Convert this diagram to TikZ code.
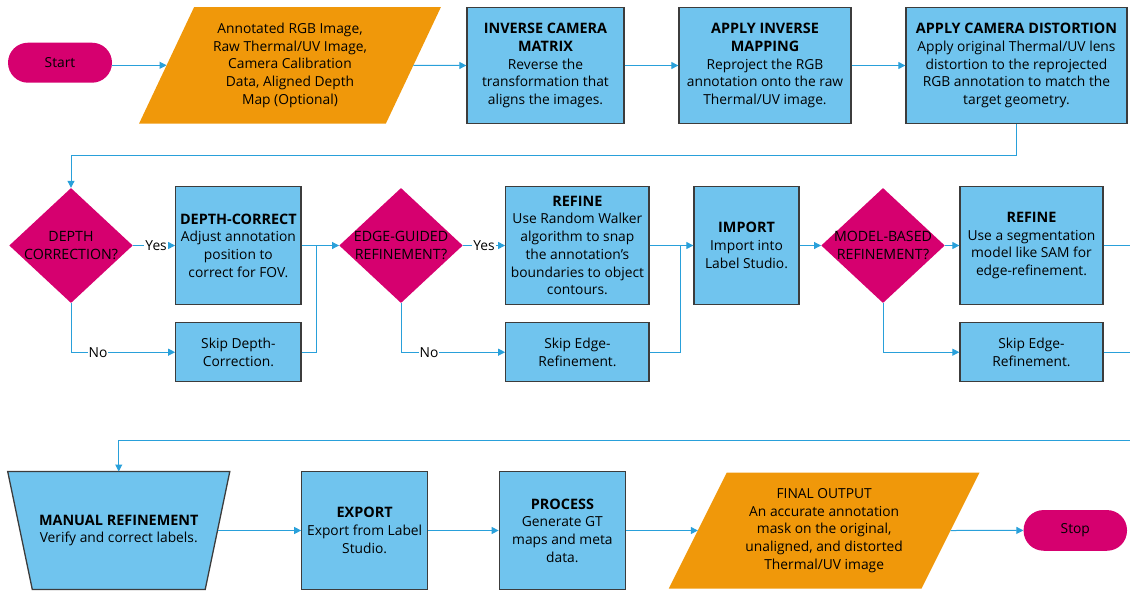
\documentclass[tikz,border=0pt]{standalone}
\usepackage{fontspec}
\setmainfont{Open Sans}
\usetikzlibrary{shapes.geometric,arrows.meta,calc}
\definecolor{magent}{HTML}{D6006F}
\definecolor{orng}{HTML}{F0980A}
\definecolor{boxblue}{HTML}{70C4EE}
\definecolor{boxedge}{HTML}{3C3C3C}
\definecolor{conn}{HTML}{29A0DA}
\newcommand{\hd}[1]{{\fontsize{14.4}{17.75}\selectfont\bfseries #1}}
\newcommand{\uc}[1]{{\fontsize{14.2}{17.75}\selectfont #1}}
\begin{document}
\begin{tikzpicture}[x=1pt,y=-1pt,
  txt/.style={font=\fontsize{13.8}{17.75}\selectfont, align=center, inner sep=0pt},
  procbox/.style={txt, rectangle, draw=boxedge, line width=1.3pt, fill=boxblue},
  term/.style={txt, rectangle, rounded corners=20pt, fill=magent},
  dia/.style={diamond, fill=magent, minimum width=123.5pt, minimum height=115pt, inner sep=0pt},
  frame/.style={rectangle, inner sep=0pt},
  arr/.style={draw=conn, line width=1pt, -{Triangle[length=7pt,width=7pt]}},
  ln/.style={draw=conn, line width=1pt},
  lbl/.style={txt, fill=white, inner sep=1pt}
]
\useasboundingbox (0,0) rectangle (1130,592);

% top row
\node[term, minimum width=104pt, minimum height=40pt] (start) at (60,62.7) {Start};
\node[frame, minimum width=301.4pt, minimum height=116pt] (input) at (290,65.3) {};
\fill[orng] ($(input.north west)+(55,0)$) -- (input.north east) -- ($(input.south east)+(-55,0)$) -- (input.south west) -- cycle;
\node[txt] (inputtxt) at (input) {Annotated RGB Image,\\Raw Thermal/UV Image,\\Camera Calibration\\Data, Aligned Depth\\Map (Optional)};
\node[procbox, minimum width=157pt, minimum height=116pt] (inv) at (545.5,65.5)
  {\hd{INVERSE CAMERA}\\\hd{MATRIX}\\Reverse the\\transformation that\\aligns the images.};
\node[procbox, minimum width=172pt, minimum height=116pt] (map) at (765,65.5)
  {\hd{APPLY INVERSE}\\\hd{MAPPING}\\Reproject the RGB\\annotation onto the raw\\Thermal/UV image.};
\node[procbox, minimum width=221pt, minimum height=116pt] (dist) at (1016.5,65.5)
  {\hd{APPLY CAMERA DISTORTION}\\Apply original Thermal/UV lens\\distortion to the reprojected\\RGB annotation to match the\\target geometry.};

% middle row
\node[dia] (d1) at (71,245.5) {};
\node[txt] (d1txt) at (d1) {\uc{DEPTH}\\\uc{CORRECTION?}};
\node[procbox, minimum width=125.3pt, minimum height=117.6pt] (dc) at (238.4,245.5)
  {\hd{DEPTH-CORRECT}\\Adjust annotation\\position to\\correct for FOV.};
\node[procbox, minimum width=125.3pt, minimum height=59pt] (skip1) at (238.4,352.2)
  {Skip Depth-\\Correction.};
\node[dia] (d2) at (401,245.5) {};
\node[txt] (d2txt) at (d2) {\uc{EDGE-GUIDED}\\\uc{REFINEMENT?}};
\node[procbox, minimum width=143.3pt, minimum height=117.6pt] (refine) at (577.4,245.5)
  {\hd{REFINE}\\Use Random Walker\\algorithm to snap\\the annotation's\\boundaries to object\\contours.};
\node[procbox, minimum width=143.3pt, minimum height=59pt] (skip2) at (577.4,352.2)
  {Skip Edge-\\Refinement.};
\node[procbox, minimum width=105pt, minimum height=117.6pt] (import) at (746.5,245.5)
  {\hd{IMPORT}\\Import into\\Label Studio.};
\node[dia] (d3) at (883,245.5) {};
\node[txt] (d3txt) at (d3) {\uc{MODEL-BASED}\\\uc{REFINEMENT?}};
\node[procbox, minimum width=143pt, minimum height=117.6pt] (refine2) at (1031.5,245.5)
  {\hd{REFINE}\\Use a segmentation\\model like SAM for\\edge-refinement.};
\node[procbox, minimum width=143pt, minimum height=59pt] (skip3) at (1031.5,352.2)
  {Skip Edge-\\Refinement.};

\coordinate (j1) at (316,245.5);
\coordinate (j2) at (680,245.5);
\coordinate (e1) at (1130,245.5);
\coordinate (e2) at (1130,352.2);
\coordinate (e3) at (1130,440.7);

% bottom row
\node[frame, minimum width=221.7pt, minimum height=117.6pt] (man) at (118.75,530.5) {};
\filldraw[fill=boxblue, draw=boxedge, line width=1.3pt, line join=miter]
  (man.north west) -- (man.north east) -- ($(man.south east)+(-24.6,0)$) -- ($(man.south west)+(24.6,0)$) -- cycle;
\node[txt] (mantxt) at (man) {\hd{MANUAL REFINEMENT}\\Verify and correct labels.};
\node[procbox, minimum width=125.7pt, minimum height=117.6pt] (exp) at (364.65,530.5)
  {\hd{EXPORT}\\Export from Label\\Studio.};
\node[procbox, minimum width=126.2pt, minimum height=117.6pt] (process) at (562.4,530.5)
  {\hd{PROCESS}\\Generate GT\\maps and meta\\data.};
\node[frame, minimum width=310.3pt, minimum height=115.6pt] (final) at (824.2,530.5) {};
\fill[orng] ($(final.north west)+(58,0)$) -- (final.north east) -- ($(final.south east)+(-58,0)$) -- (final.south west) -- cycle;
\node[txt] (finaltxt) at (final) {FINAL OUTPUT\\An accurate annotation\\mask on the original,\\unaligned, and distorted\\Thermal/UV image};
\node[term, minimum width=103.4pt, minimum height=40.7pt] (stop) at (1075.3,530.4) {Stop};

% connectors
\draw[arr] (start.east |- input.west) -- ($(input.west)+(27.5,0)$);
\draw[arr] ($(input.east)+(-27.5,0)$) -- (inv.west);
\draw[arr] (inv.east) -- (map.west);
\draw[arr] (map.east) -- (dist.west);
\draw[arr] (dist.south) -- ++(0,31) -| (d1.north);

\draw[arr] (d1.east) -- node[lbl, pos=0.55] (yes1) {Yes} (dc.west);
\draw[arr] (d1.south) |- node[lbl, pos=0.63] (no1) {No} (skip1.west);
\draw[arr] (dc.east) -- (d2.west);
\draw[ln] (skip1.east) -| (j1);

\draw[arr] (d2.east) -- node[lbl, pos=0.5] (yes2) {Yes} (refine.west);
\draw[arr] (d2.south) |- node[lbl, pos=0.635] (no2) {No} (skip2.west);
\draw[arr] (refine.east) -- (import.west);
\draw[ln] (skip2.east) -| (j2);

\draw[arr] (import.east) -- (d3.west);
\draw[arr] (d3.east) -- (refine2.west);
\draw[arr] (d3.south) |- (skip3.west);
\draw[ln] (refine2.east) -- (e1);
\draw[ln] (skip3.east) -- (e2);

\draw[arr] (e3) -| (man.north);
\draw[arr] ($(man.east)+(-12.3,0)$) -- (exp.west);
\draw[arr] (exp.east) -- (process.west);
\draw[arr] (process.east) -- ($(final.west)+(29,0)$);
\draw[arr] ($(final.east)+(-29,0)$) -- (stop.west);
\end{tikzpicture}
\end{document}
